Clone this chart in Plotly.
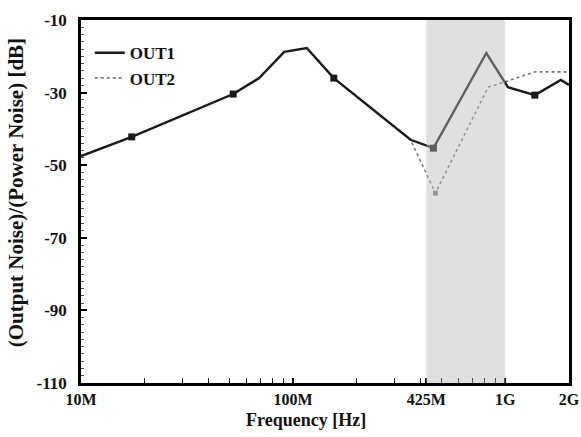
import plotly.graph_objects as go
import math

# ---- data (frequency in Hz, noise ratio in dB) ----
out1_freq = [10e6, 17.35e6, 52.2e6, 69.2e6, 90.8e6, 116e6, 155.6e6, 358e6, 459e6, 815e6, 1.03e9, 1.38e9, 1.83e9, 2.0e9]
out1_db = [-47.5, -42.2, -30.4, -26.0, -18.8, -17.7, -26.0, -43.0, -45.3, -19.1, -28.5, -30.7, -26.5, -27.9]
out1_marked = [1, 2, 6, 8, 11]  # indices of points drawn with square markers

out2_freq = [10e6, 17.35e6, 52.2e6, 69.2e6, 90.8e6, 116e6, 155.6e6, 358e6, 469e6, 832e6, 1.0e9, 1.38e9, 1.91e9, 2.0e9]
out2_db = [-47.5, -42.2, -30.4, -26.0, -18.8, -17.7, -26.0, -43.0, -57.7, -28.5, -27.0, -24.3, -24.3, -24.5]
out2_marked = [8]

band = [425e6, 1e9]  # shaded band

x_tickvals = [10e6, 100e6, 425e6, 1e9, 2e9]
x_ticktext = ["10M", "100M", "425M", "1G", "2G"]
x_minor = [k * 10e6 for k in range(2, 10)] + [k * 100e6 for k in range(2, 10)]
y_tickvals = [-10, -30, -50, -70, -90, -110]
y_ticktext = ["-10", "-30", "-50", "-70", "-90", "-110"]

x_title = "Frequency [Hz]"
y_title = "(Output Noise)/(Power Noise) [dB]"

FONT = "Liberation Serif"

fig = go.Figure()

fig.add_trace(go.Scatter(
    x=out2_freq, y=out2_db, mode="lines", name="OUT2",
    line=dict(color="#777777", width=1.6, dash="dot"),
))
fig.add_trace(go.Scatter(
    x=[out2_freq[i] for i in out2_marked], y=[out2_db[i] for i in out2_marked],
    mode="markers", showlegend=False,
    marker=dict(symbol="square", size=5, color="#777777"),
))
fig.add_trace(go.Scatter(
    x=out1_freq, y=out1_db, mode="lines", name="OUT1",
    line=dict(color="#1a1a1a", width=2.4),
))
fig.add_trace(go.Scatter(
    x=[out1_freq[i] for i in out1_marked], y=[out1_db[i] for i in out1_marked],
    mode="markers", showlegend=False,
    marker=dict(symbol="square", size=7, color="#1a1a1a"),
))

fig.add_shape(
    type="rect", xref="x", yref="paper",
    x0=band[0], x1=band[1], y0=0, y1=1,
    fillcolor="rgba(184,184,184,0.44)", line=dict(width=0), layer="above",
)

fig.add_annotation(
    text=x_title, xref="paper", yref="paper", x=0.461, y=-0.102,
    xanchor="center", yanchor="middle", showarrow=False,
    font=dict(size=18, family=FONT, weight="bold", color="#111111"),
)
fig.add_annotation(
    text=y_title, xref="paper", yref="paper", x=-0.133, y=0.523,
    xanchor="center", yanchor="middle", showarrow=False, textangle=-90,
    font=dict(size=21, family=FONT, weight="bold", color="#111111"),
)

fig.update_layout(
    width=581, height=437,
    margin=dict(l=81, r=12, t=20, b=54),
    paper_bgcolor="white", plot_bgcolor="white",
    font=dict(family=FONT, size=15, color="#111111", weight="bold"),
    legend=dict(
        x=0.018, y=0.958, xanchor="left", yanchor="top",
        bgcolor="rgba(0,0,0,0)", font=dict(size=17, family=FONT, weight="bold"),
        traceorder="reversed", itemwidth=30, tracegroupgap=0,
    ),
    xaxis=dict(
        type="log", range=[7, math.log10(2e9)], automargin=False,
        tickvals=x_tickvals, ticktext=x_ticktext,
        ticks="inside", ticklen=5, tickwidth=1.5, tickcolor="black",
        minor=dict(tickvals=x_minor, ticks="inside", ticklen=5, tickwidth=1.2, tickcolor="black"),
        showline=True, linecolor="black", linewidth=2.5, mirror=True,
        showgrid=False, zeroline=False,
        tickfont=dict(size=16, family=FONT, weight="bold"),
    ),
    yaxis=dict(
        range=[-110, -10], automargin=False,
        tickvals=y_tickvals, ticktext=y_ticktext,
        ticks="inside", ticklen=6, tickwidth=1.5, tickcolor="black",
        minor=dict(dtick=2, ticks="inside", ticklen=3, tickwidth=1, tickcolor="#555555"),
        showline=True, linecolor="black", linewidth=2.5, mirror=True,
        showgrid=False, zeroline=False,
        ticklabelstandoff=8,
        tickfont=dict(size=17, family=FONT, weight="bold"),
    ),
)

fig.write_html("out.html")
